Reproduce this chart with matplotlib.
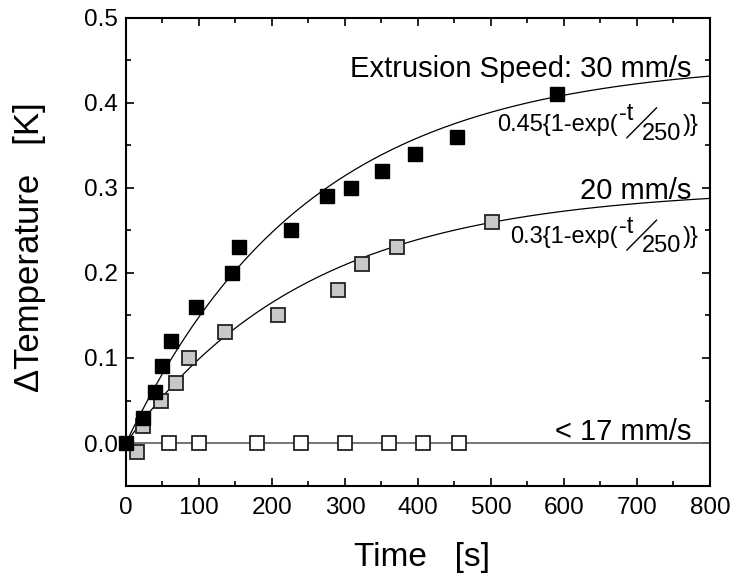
import matplotlib
matplotlib.use('Agg')
import numpy as np
import matplotlib.pyplot as plt
from matplotlib.ticker import MultipleLocator

plt.rcParams['font.family'] = ['Liberation Sans', 'DejaVu Sans']

t_30 = [0, 23, 40, 49, 62, 96, 145, 155, 226, 275, 308, 351, 396, 453, 590]
dT_30 = [0.0, 0.03, 0.06, 0.09, 0.12, 0.16, 0.20, 0.23, 0.25, 0.29, 0.30, 0.32, 0.34, 0.36, 0.41]

t_20 = [15, 23, 48, 68, 87, 136, 208, 290, 323, 371, 501]
dT_20 = [-0.01, 0.02, 0.05, 0.07, 0.10, 0.13, 0.15, 0.18, 0.21, 0.23, 0.26]

t_17 = [59, 100, 179, 240, 300, 360, 407, 456]
dT_17 = [0, 0, 0, 0, 0, 0, 0, 0]

# fit parameters from the labels: A{1-exp(-t/tau)}
amp_30 = 0.45
amp_20 = 0.3
tau = 250
t_fit = np.linspace(0, 800, 400)

fig = plt.figure(figsize=(7.38, 5.82), dpi=100)
ax = fig.add_axes([0.1707, 0.1658, 0.7913, 0.8033])

ax.plot(t_fit, amp_30 * (1 - np.exp(-t_fit / tau)), color='black', lw=0.9, zorder=2)
ax.plot(t_fit, amp_20 * (1 - np.exp(-t_fit / tau)), color='black', lw=0.9, zorder=2)
ax.plot([0, 800], [0, 0], color='#6a6a6a', lw=1.3, zorder=2)

ms = 10.5
ax.plot(t_17, dT_17, ls='none', marker='s', ms=ms, mfc='white', mec='#222222', mew=1.3, zorder=3, clip_on=False)
ax.plot(t_20, dT_20, ls='none', marker='s', ms=ms, mfc='#c8c8c8', mec='#222222', mew=1.3, zorder=4, clip_on=False)
ax.plot(t_30, dT_30, ls='none', marker='s', ms=ms, mfc='black', mec='black', mew=1.0, zorder=5, clip_on=False)

ax.set_xlim(0, 800)
ax.set_ylim(-0.05, 0.5)
ax.xaxis.set_major_locator(MultipleLocator(100))
ax.xaxis.set_minor_locator(MultipleLocator(50))
ax.yaxis.set_major_locator(MultipleLocator(0.1))
ax.yaxis.set_minor_locator(MultipleLocator(0.05))
ax.set_yticks([0.0, 0.1, 0.2, 0.3, 0.4, 0.5])
ax.set_yticklabels(['0.0', '0.1', '0.2', '0.3', '0.4', '0.5'])

for s in ax.spines.values():
    s.set_linewidth(1.5)
ax.tick_params(which='both', direction='in', top=True, right=True, width=1.2, labelsize=17.5)
ax.tick_params(which='major', length=6)
ax.tick_params(which='minor', length=3.5)
ax.tick_params(axis='x', pad=8)
ax.tick_params(axis='y', pad=6)

ax.set_xlabel('Time   [s]', fontsize=24)
ax.set_ylabel('\u0394Temperature   [K]', fontsize=25)
ax.xaxis.set_label_coords(0.507, -0.121)
ax.yaxis.set_label_coords(-0.137, 0.51)

# speed labels
ax.text(775, 0.43, 'Extrusion Speed: 30 mm/s', fontsize=21, ha='right', va='baseline')
ax.text(775, 0.287, '20 mm/s', fontsize=21, ha='right', va='baseline')
ax.text(775, 0.0035, '< 17 mm/s', fontsize=21, ha='right', va='baseline')


def fit_label(amp_text, y0):
    fs = 17
    ax.text(674, y0, amp_text + '{1-exp(', fontsize=fs, ha='right', va='baseline')
    ax.text(675, y0 + 0.012, '-t', fontsize=fs, ha='left', va='baseline')
    # thin fraction slash between -t and 250
    ax.annotate('', xy=(727, y0 + 0.027), xytext=(686, y0 - 0.0085),
                arrowprops=dict(arrowstyle='-', lw=1.0, color='black',
                                shrinkA=0, shrinkB=0))
    ax.text(707, y0 - 0.011, '250', fontsize=fs, ha='left', va='baseline')
    ax.text(763, y0, ')}', fontsize=fs, ha='left', va='baseline')


fit_label('0.45', 0.3674)
fit_label('0.3', 0.2353)

fig.savefig('out.png', dpi=100)
